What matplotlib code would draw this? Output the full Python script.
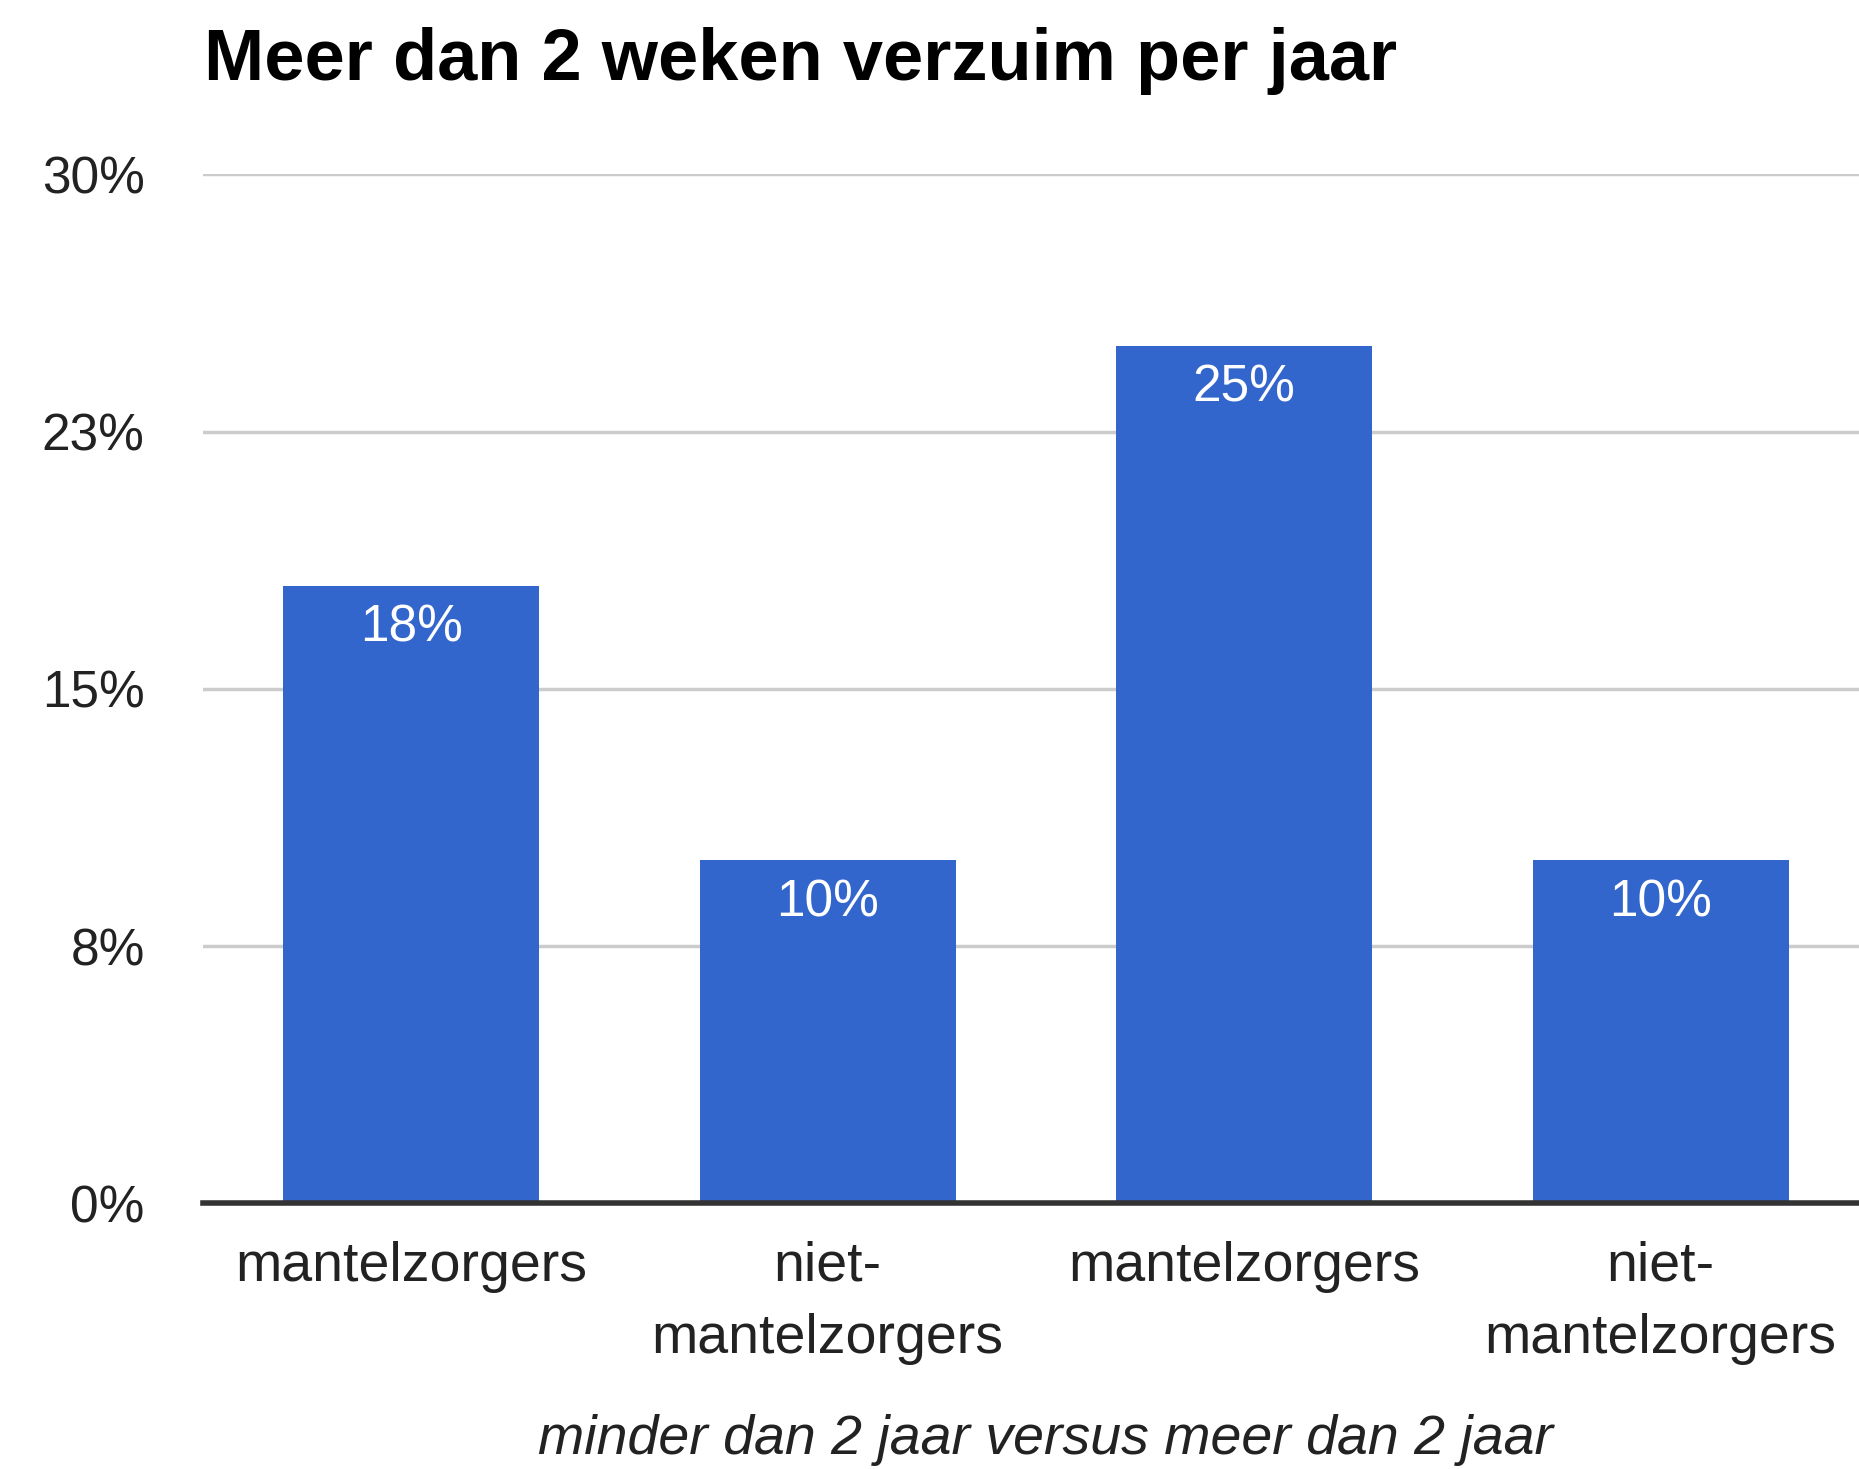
import matplotlib
matplotlib.use("Agg")
import matplotlib.pyplot as plt

# data
categories = ["mantelzorgers", "niet-\nmantelzorgers", "mantelzorgers", "niet-\nmantelzorgers"]
values = [18, 10, 25, 10]
value_labels = ["18%", "10%", "25%", "10%"]
ytick_values = [0, 7.5, 15, 22.5, 30]
ytick_labels = ["0%", "8%", "15%", "23%", "30%"]
title = "Meer dan 2 weken verzuim per jaar"
xlabel = "minder dan 2 jaar versus meer dan 2 jaar"

plt.rcParams['font.family'] = ['Liberation Sans', 'DejaVu Sans']

W, H = 1859, 1469
left, right = 203.0, 1869.0
fig = plt.figure(figsize=(W / 100, H / 100), dpi=100)
ax = fig.add_axes([left / W, 1 - 1203.4 / H, (right - left) / W, (1203.4 - 174.3) / H])

x = list(range(len(values)))
ax.bar(x, values, width=0.615, color="#3366CC", zorder=2)

for xi, v, lab in zip(x, values, value_labels):
    ax.annotate(lab, (xi, v), xytext=(0, -13), textcoords="offset points",
                ha="center", va="top", color="white", fontsize=37, zorder=3)

ax.set_xlim(-0.5, 3.5)
ax.set_ylim(0, 30)
ax.set_yticks(ytick_values)
ax.set_yticklabels(ytick_labels)
ax.set_xticks(x)
ax.set_xticklabels(categories, linespacing=1.5)
ax.tick_params(axis="y", length=0, pad=42, labelsize=37, labelcolor="#222222")
ax.tick_params(axis="x", length=0, pad=27, labelsize=40, labelcolor="#222222")

ax.grid(axis="y", color="#CCCCCC", linewidth=2.5, zorder=0)
ax.axhline(0, color="#333333", linewidth=4, zorder=3, clip_on=False)
for s in ax.spines.values():
    s.set_visible(False)

fig.text(204 / W, 1 - 80 / H, title, fontsize=52, fontweight="bold",
         color="black", ha="left", va="baseline")
fig.text(1045 / W, 1 - 1440 / H, xlabel, fontsize=40, style="italic",
         color="#222222", ha="center", va="center")

fig.savefig("out.png", dpi=100)
